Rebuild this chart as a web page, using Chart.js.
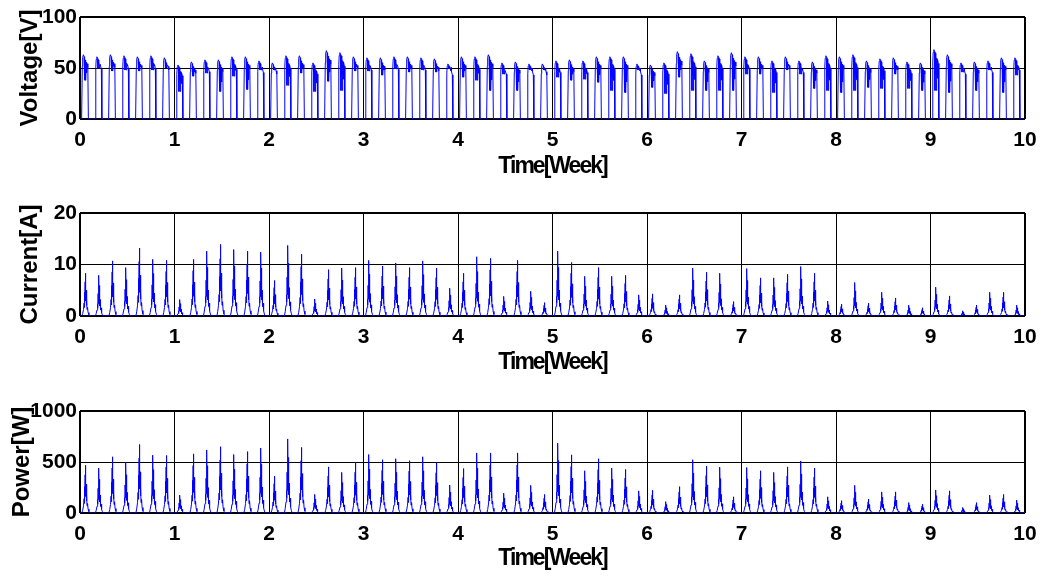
<!DOCTYPE html>
<html>
<head>
<meta charset="utf-8">
<script src="https://cdn.jsdelivr.net/npm/chart.js@4.4.1/dist/chart.umd.min.js"></script>
<style>
html,body{margin:0;padding:0;background:#fff;width:1049px;height:576px;overflow:hidden;}
canvas{position:absolute;left:0;}
</style>
</head>
<body>
<canvas id="c1" width="1049" height="190" style="top:0px"></canvas>
<canvas id="c2" width="1049" height="195" style="top:195px"></canvas>
<canvas id="c3" width="1049" height="184" style="top:392px"></canvas>
<script>
// ---- Data (one value per day, 10 weeks x 7 days) ----
const xTitle = 'Time[Week]';
const yTitles = ['Voltage[V]', 'Current[A]', 'Power[W]'];

// daily voltage plateau maximum [V]
const voltageTop = [
  63, 61, 63, 62, 61, 62, 60,
  53, 56, 58, 58, 61, 61, 57,
  55, 62, 62, 55, 67, 65, 61,
  60, 60, 61, 61, 60, 59, 54,
  61, 61, 63, 55, 56, 54, 54,
  57, 58, 57, 61, 61, 61, 54,
  53, 55, 66, 64, 57, 62, 65,
  61, 61, 57, 61, 57, 56, 62,
  61, 63, 57, 59, 60, 56, 55,
  68, 63, 55, 56, 57, 60, 60
];
// daily voltage dip minimum during the day [V]
const voltageDip = [
  38, 50, 47, 48, 47, 48, 50,
  27, 42, 45, 27, 42, 29, 48,
  48, 33, 45, 27, 37, 28, 47,
  47, 43, 49, 46, 48, 46, 49,
  41, 38, 28, 44, 28, 48, 48,
  41, 38, 39, 36, 28, 26, 48,
  31, 25, 41, 28, 28, 28, 28,
  44, 44, 26, 48, 44, 30, 28,
  26, 28, 31, 30, 44, 30, 28,
  28, 26, 46, 28, 48, 26, 43
];
// daily current peak [A]
const currentPeak = [
  8.3, 7.9, 10.7, 9.4, 13.2, 11.0, 10.8,
  3.2, 11.0, 12.6, 13.9, 12.9, 12.6, 12.4,
  6.9, 13.7, 12.0, 3.3, 9.0, 9.3, 9.4,
  10.8, 9.7, 10.3, 9.4, 10.7, 9.3, 5.4,
  8.3, 11.5, 11.2, 3.8, 10.8, 4.8, 2.6,
  12.6, 10.4, 7.7, 9.4, 7.7, 7.9, 4.1,
  4.3, 2.1, 4.1, 9.3, 8.5, 8.3, 2.8,
  9.2, 7.4, 7.4, 8.1, 9.6, 8.3, 2.9,
  2.3, 6.5, 2.5, 4.6, 3.5, 2.1, 1.6,
  5.6, 3.9, 1.0, 2.1, 4.6, 4.6, 2.1
];
// daily power peak [W]
const powerPeak = [
  468, 440, 551, 500, 672, 567, 564,
  175, 580, 618, 650, 573, 602, 637,
  360, 726, 643, 182, 452, 398, 500,
  573, 522, 532, 513, 551, 494, 274,
  436, 589, 589, 194, 589, 271, 182,
  685, 570, 414, 532, 440, 427, 217,
  223, 111, 258, 522, 459, 449, 159,
  446, 414, 398, 452, 510, 440, 159,
  121, 271, 137, 207, 207, 102, 86,
  226, 217, 54, 102, 175, 182, 127
];

// within-day profile: [fraction of day, weight of top, weight of dip]
const voltageProfile = [
  [0.12, 0, 0], [0.17, 0.82, 0], [0.20, 0.96, 0], [0.25, 1, 0], [0.30, 0.97, 0],
  [0.33, 0, 1], [0.35, 0.95, 0], [0.38, 0.4, 0.6], [0.40, 0.92, 0], [0.43, 0, 1],
  [0.46, 0.88, 0], [0.49, 0.3, 0.7], [0.52, 0.86, 0], [0.58, 0.8, 0], [0.62, 0, 0]
];
// current/power spike profile: [fraction of day, fraction of daily peak]
const spikeProfile = [
  [0.14, 0], [0.20, 0.06], [0.26, 0.15], [0.30, 0.3], [0.32, 0.2], [0.34, 0.55],
  [0.36, 0.3], [0.38, 0.8], [0.39, 0.45], [0.40, 1.0], [0.41, 0.5], [0.43, 0.75],
  [0.44, 0.35], [0.46, 0.6], [0.48, 0.25], [0.50, 0.4], [0.52, 0.15], [0.56, 0.2],
  [0.60, 0.08], [0.66, 0.03], [0.72, 0]
];
const DAYS_PER_WEEK = 7;

function voltageSeries() {
  const pts = [{x: 0, y: 0}];
  voltageTop.forEach((top, d) => {
    voltageProfile.forEach(([f, a, b]) => {
      pts.push({x: (d + f) / DAYS_PER_WEEK, y: a * top + b * voltageDip[d]});
    });
  });
  pts.push({x: 10, y: 0});
  return pts;
}
function spikeSeries(peaks) {
  const pts = [{x: 0, y: 0}];
  peaks.forEach((p, d) => {
    spikeProfile.forEach(([f, w]) => {
      pts.push({x: (d + f) / DAYS_PER_WEEK, y: w * p});
    });
  });
  pts.push({x: 10, y: 0});
  return pts;
}

const FONT = "'Liberation Sans', Arial, sans-serif";

// tighten the x-axis title like the reference's condensed lettering
const condensedTitle = {
  id: 'condensedTitle',
  beforeDraw(chart) {
    const s = chart.scales.x;
    if (s && !s._condensed) {
      const orig = s.drawTitle;
      s.drawTitle = function () {
        const ctx = this.ctx;
        ctx.save();
        ctx.letterSpacing = '-2px';
        orig.call(this);
        ctx.restore();
      };
      s._condensed = true;
    }
  }
};

function makeChart(id, points, yMax, yStep, yTitle, yTitlePad, padTop, xAxisH, xTitlePad) {
  const gridW = (max) => (ctx) => (ctx.tick && (ctx.tick.value === 0 || ctx.tick.value === max)) ? 2 : 1;
  return new Chart(document.getElementById(id), {
    type: 'line',
    data: {
      datasets: [{
        data: points,
        borderColor: '#0000ff',
        borderWidth: 1,
        pointRadius: 0,
        tension: 0,
        fill: false
      }]
    },
    plugins: [condensedTitle],
    options: {
      responsive: false,
      animation: false,
      events: [],
      layout: {padding: {top: padTop, right: 24, left: 0, bottom: 0}},
      plugins: {legend: {display: false}, tooltip: {enabled: false}},
      scales: {
        x: {
          type: 'linear', min: 0, max: 10,
          ticks: {stepSize: 1, color: '#000', padding: 9, maxRotation: 0,
                  callback: (v) => String(v),
                  font: {family: FONT, weight: 'bold', size: 21}},
          grid: {color: '#000', lineWidth: gridW(10), drawTicks: false},
          border: {display: false},
          title: {display: true, text: xTitle, color: '#000',
                  font: {family: FONT, weight: 'bold', size: 23},
                  padding: {top: 0, bottom: xTitlePad}},
          afterFit: (s) => { s.height = xAxisH; }
        },
        y: {
          min: 0, max: yMax,
          ticks: {stepSize: yStep, color: '#000', padding: 3,
                  callback: (v) => String(v),
                  font: {family: FONT, weight: 'bold', size: 21}},
          grid: {color: '#000', lineWidth: gridW(yMax), drawTicks: false},
          border: {display: false},
          title: {display: true, text: yTitle, color: '#000',
                  font: {family: FONT, weight: 'bold', size: 24},
                  padding: {top: yTitlePad, bottom: 0}},
          afterFit: (s) => { s.width = 80; }
        }
      }
    }
  });
}

makeChart('c1', voltageSeries(), 100, 50, yTitles[0], 16, 17, 71, 10);
makeChart('c2', spikeSeries(currentPeak), 20, 10, yTitles[1], 16, 18, 74, 14);
makeChart('c3', spikeSeries(powerPeak), 1000, 500, yTitles[2], 8, 19, 63, 4);
</script>
</body>
</html>
